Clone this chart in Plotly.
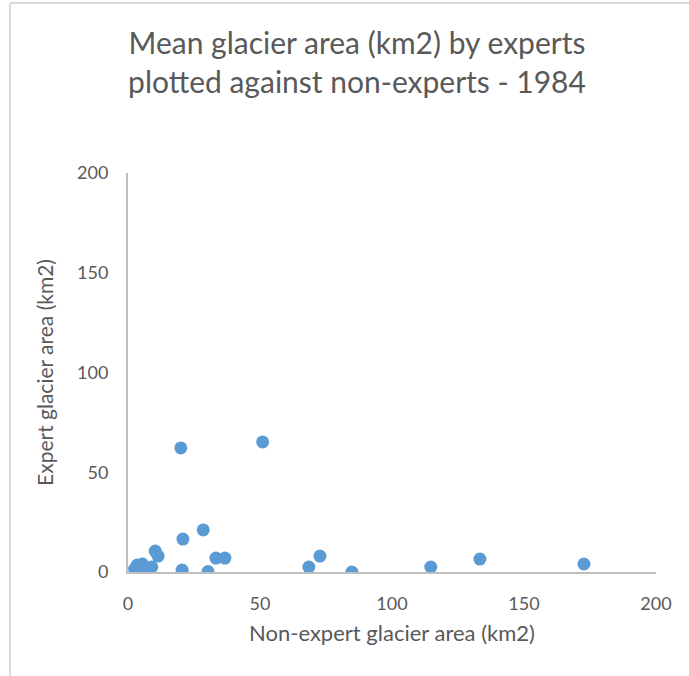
import plotly.graph_objects as go

# Mean glacier area (km2) per glacier, 1984
non_expert_area = [20.0, 51.0, 28.5, 20.8, 10.3, 11.4, 20.5, 30.3, 33.3, 36.7,
                   68.5, 72.7, 84.8, 114.7, 133.3, 172.7,
                   2.5, 3.0, 3.5, 4.0, 4.5, 5.5, 6.0, 6.5, 7.5, 9.0]
expert_area = [62.2, 65.2, 21.1, 16.5, 10.5, 8.0, 1.0, 0.2, 7.0, 7.0,
               2.5, 8.0, 0.0, 2.5, 6.5, 4.0,
               1.5, 0.5, 3.5, 2.5, 0.8, 4.0, 1.0, 2.0, 1.5, 2.5]

x_ticks = [0, 50, 100, 150, 200]
y_ticks = [0, 50, 100, 150, 200]

W, H = 689, 676
L, R, T, B = 128, 33, 173, 104

fig = go.Figure(
    go.Scatter(
        x=non_expert_area,
        y=expert_area,
        mode="markers",
        marker=dict(size=13, color="#5B9BD5", line=dict(width=0)),
        showlegend=False,
    )
)

font_family = "Lato, 'Open Sans', sans-serif"
grey_text = "#595959"

fig.update_layout(
    width=W,
    height=H,
    margin=dict(l=L, r=R, t=T, b=B),
    paper_bgcolor="white",
    plot_bgcolor="white",
    font=dict(family=font_family, color=grey_text, size=18),
    title=dict(
        text="Mean glacier area (km2) by experts<br>plotted against non-experts - 1984",
        x=357 / W,
        xanchor="center",
        xref="container",
        y=1 - 54 / H,
        yanchor="top",
        font=dict(size=30, color=grey_text, family=font_family),
    ),
    xaxis=dict(
        range=[0, 200],
        tickvals=x_ticks,
        showgrid=False,
        zeroline=False,
        showline=True,
        linecolor="#BFBFBF",
        linewidth=2,
        ticks="outside",
        ticklen=14,
        tickcolor="rgba(0,0,0,0)",
        tickfont=dict(size=18, color=grey_text),
        title=dict(text="Non-expert glacier area (km2)", standoff=13,
                   font=dict(size=22, color=grey_text)),
        fixedrange=True,
    ),
    yaxis=dict(
        range=[0, 200],
        tickvals=y_ticks,
        showgrid=False,
        zeroline=False,
        showline=True,
        linecolor="#BFBFBF",
        linewidth=2,
        ticks="outside",
        ticklen=14,
        tickcolor="rgba(0,0,0,0)",
        tickfont=dict(size=18, color=grey_text),
        title=dict(text="Expert glacier area (km2)", standoff=18,
                   font=dict(size=21, color=grey_text)),
        fixedrange=True,
    ),
)

# Chart frame: light grey top and left edges
plot_w = W - L - R
plot_h = H - T - B
px_x = lambda p: (p - L) / plot_w
px_y = lambda p: (H - B - p) / plot_h
frame = dict(color="#D9D9D9", width=2)
fig.add_shape(type="line", xref="paper", yref="paper",
              x0=px_x(10), x1=px_x(W + 5), y0=px_y(3), y1=px_y(3), line=frame)
fig.add_shape(type="line", xref="paper", yref="paper",
              x0=px_x(10), x1=px_x(10), y0=px_y(3), y1=px_y(H + 5), line=frame)

fig.write_html("out.html")
